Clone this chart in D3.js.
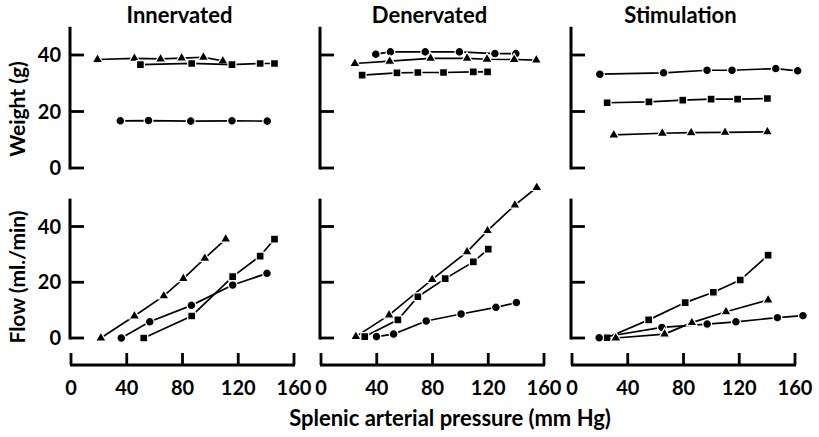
<!DOCTYPE html>
<html>
<head>
<meta charset="utf-8">
<script src="https://cdn.jsdelivr.net/npm/d3@7"></script>
<style>
  body { margin: 0; background: #fff; }
  svg text { font-family: Lato, "Open Sans", sans-serif; font-weight: bold; fill: #000; }
</style>
</head>
<body>
<div id="chart"></div>
<script>
// panel names and ticks
var panelNames = ["Innervated", "Denervated", "Stimulation"];
var xTicks = [0, 40, 80, 120, 160];
var yTicks = [0, 20, 40];

// Innervated - weight (g)
var innWtTriP = [19, 45.5, 64.3, 79.4, 95, 108.9], innWtTriV = [38.4, 38.8, 38.6, 38.9, 39.2, 37.9];
var innWtSqP = [49.8, 86.6, 115.5, 135.7, 146], innWtSqV = [36.6, 37, 36.6, 37, 37];
var innWtCirP = [35.4, 55.6, 85.9, 115.5, 140.8], innWtCirV = [16.7, 16.8, 16.6, 16.7, 16.6];
// Innervated - flow (ml./min)
var innFlTriP = [21.4, 45.5, 66.6, 80.6, 96, 111], innFlTriV = [0, 7.9, 15.1, 21.3, 28.6, 35.5];
var innFlCirP = [36.1, 56.5, 86.4, 116, 140.6], innFlCirV = [0, 5.8, 11.7, 19, 23.2];
var innFlSqP = [52.2, 86.6, 116, 135.7, 146], innFlSqV = [0, 7.9, 22, 29.4, 35.5];

// Denervated - weight
var denWtCirP = [39.3, 49.8, 74.8, 99.3, 124.8, 139.8], denWtCirV = [40.3, 41.1, 41.1, 41.1, 40.5, 40.5];
var denWtTriP = [24.3, 49.3, 78.6, 104.8, 119.1, 138.6, 154.5], denWtTriV = [37, 37.8, 38.8, 38.8, 38.5, 38.4, 38.2];
var denWtSqP = [29.5, 54.5, 69.5, 87.9, 109.3, 119.5], denWtSqV = [32.9, 33.7, 33.8, 33.8, 34, 34];
// Denervated - flow
var denFlTriP = [25, 48.8, 79.8, 104.8, 119.5, 139.1, 154.8], denFlTriV = [0.5, 8.2, 21, 30.9, 38.5, 47.7, 54];
var denFlSqP = [31.4, 55.2, 69.5, 89.1, 109.3, 120], denFlSqV = [0.5, 6.5, 14.8, 21.3, 27.3, 31.9];
var denFlCirP = [39.8, 52.1, 75.5, 100.5, 125.5, 140.2], denFlCirV = [0.5, 1.4, 6.1, 8.6, 11, 12.7];

// Stimulation - weight
var stiWtCirP = [20, 65.7, 96.9, 114.8, 146.2, 161.9], stiWtCirV = [33.2, 33.7, 34.6, 34.6, 35.2, 34.4];
var stiWtSqP = [25.2, 55.2, 79.5, 99.8, 118.8, 140.2], stiWtSqV = [23.1, 23.4, 24, 24.4, 24.4, 24.6];
var stiWtTriP = [30, 64.8, 85.5, 109.8, 140.2], stiWtTriV = [11.7, 12.3, 12.5, 12.6, 12.8];
// Stimulation - flow
var stiFlSqP = [25.2, 55, 81.2, 101.4, 120.7, 140.7], stiFlSqV = [0.1, 6.5, 12.7, 16.4, 20.8, 29.7];
var stiFlCirP = [19.5, 64.5, 97, 117.6, 147.4, 165.7], stiFlCirV = [0.1, 3.8, 5, 5.8, 7.3, 8];
var stiFlTriP = [31.4, 66.4, 86, 110.5, 140.7], stiFlTriV = [0, 1.4, 5.5, 9.4, 13.6];

var series = [
    {panel: 0, row: 0, shape: "tri", p: innWtTriP, v: innWtTriV},
    {panel: 0, row: 0, shape: "sq", p: innWtSqP, v: innWtSqV},
    {panel: 0, row: 0, shape: "cir", p: innWtCirP, v: innWtCirV},
    {panel: 0, row: 1, shape: "tri", p: innFlTriP, v: innFlTriV},
    {panel: 0, row: 1, shape: "cir", p: innFlCirP, v: innFlCirV},
    {panel: 0, row: 1, shape: "sq", p: innFlSqP, v: innFlSqV},
    {panel: 1, row: 0, shape: "cir", p: denWtCirP, v: denWtCirV},
    {panel: 1, row: 0, shape: "tri", p: denWtTriP, v: denWtTriV},
    {panel: 1, row: 0, shape: "sq", p: denWtSqP, v: denWtSqV},
    {panel: 1, row: 1, shape: "tri", p: denFlTriP, v: denFlTriV},
    {panel: 1, row: 1, shape: "sq", p: denFlSqP, v: denFlSqV},
    {panel: 1, row: 1, shape: "cir", p: denFlCirP, v: denFlCirV},
    {panel: 2, row: 0, shape: "cir", p: stiWtCirP, v: stiWtCirV},
    {panel: 2, row: 0, shape: "sq", p: stiWtSqP, v: stiWtSqV},
    {panel: 2, row: 0, shape: "tri", p: stiWtTriP, v: stiWtTriV},
    {panel: 2, row: 1, shape: "sq", p: stiFlSqP, v: stiFlSqV},
    {panel: 2, row: 1, shape: "cir", p: stiFlCirP, v: stiFlCirV},
    {panel: 2, row: 1, shape: "tri", p: stiFlTriP, v: stiFlTriV}
];

var width = 819, height = 437;
var svg = d3.select("#chart").append("svg")
    .attr("width", width)
    .attr("height", height);

var panelLeft = [71, 321, 572];
var panelW = 223;
var xAxisY = 365;

// row 0 = weight, row 1 = flow
var yScales = [
    d3.scaleLinear().domain([0, 40]).range([168, 55]),
    d3.scaleLinear().domain([0, 40]).range([338, 226.5])
];
var yTopVal = 50;

var shapes = {
    cir: d3.symbol().type(d3.symbolCircle).size(60),
    sq: d3.symbol().type(d3.symbolSquare).size(62),
    tri: d3.symbol().type(d3.symbolTriangle).size(48)
};

panelNames.forEach(function (name, i) {
    var x = d3.scaleLinear().domain([0, 160]).range([panelLeft[i], panelLeft[i] + panelW]);
    var g = svg.append("g");

    g.append("text")
        .attr("x", panelLeft[i] + panelW / 2 - 3)
        .attr("y", 23)
        .attr("text-anchor", "middle")
        .attr("font-size", 22)
        .text(name);

    // y axes (weight, flow)
    yScales.forEach(function (y) {
        g.append("line")
            .attr("x1", x(0) - 1).attr("x2", x(0) - 1)
            .attr("y1", y(yTopVal)).attr("y2", y(0) + 1.5)
            .attr("stroke", "#000").attr("stroke-width", 3);
        g.selectAll(null).data(yTicks).enter().append("line")
            .attr("x1", x(0) - 1).attr("x2", x(0) + 13)
            .attr("y1", function (d) { return y(d); })
            .attr("y2", function (d) { return y(d); })
            .attr("stroke", "#000").attr("stroke-width", 2.8);
        if (i == 0) {
            g.selectAll(null).data(yTicks).enter().append("text")
                .attr("x", x(0) - 10)
                .attr("y", function (d) { return y(d); })
                .attr("dy", "0.36em")
                .attr("text-anchor", "end")
                .attr("font-size", 20)
                .text(function (d) { return d; });
        }
    });

    // x axis
    g.append("line")
        .attr("x1", x(0) - 1).attr("x2", x(160) + 1)
        .attr("y1", xAxisY).attr("y2", xAxisY)
        .attr("stroke", "#000").attr("stroke-width", 3);
    g.selectAll(null).data(xTicks).enter().append("line")
        .attr("x1", function (d) { return x(d); })
        .attr("x2", function (d) { return x(d); })
        .attr("y1", xAxisY).attr("y2", xAxisY - 12)
        .attr("stroke", "#000").attr("stroke-width", 2.8);
    g.selectAll(null).data(xTicks).enter().append("text")
        .attr("x", function (d) { return x(d); })
        .attr("y", 395)
        .attr("text-anchor", "middle")
        .attr("font-size", 20)
        .text(function (d) { return d; });

    // data
    series.filter(function (s) { return s.panel == i; }).forEach(function (s) {
        var y = yScales[s.row];
        var pts = s.p.map(function (p, k) { return [x(p), y(s.v[k])]; });
        g.append("path")
            .attr("d", d3.line()(pts))
            .attr("fill", "none")
            .attr("stroke", "#000")
            .attr("stroke-width", 1.7);
        g.selectAll(null).data(pts).enter().append("path")
            .attr("d", shapes[s.shape])
            .attr("transform", function (d) { return "translate(" + d[0] + "," + d[1] + ")"; })
            .attr("fill", "#000")
            .attr("stroke", "#fff")
            .attr("stroke-width", 1.2);
    });
});

// axis titles
svg.append("text")
    .attr("transform", "translate(" + 25 + "," + 109 + ") rotate(-90)")
    .attr("text-anchor", "middle")
    .attr("font-size", 21)
    .text("Weight (g)");
svg.append("text")
    .attr("transform", "translate(" + 25 + "," + 277 + ") rotate(-90)")
    .attr("text-anchor", "middle")
    .attr("font-size", 21)
    .text("Flow (ml./min)");
svg.append("text")
    .attr("x", 450)
    .attr("y", 426)
    .attr("text-anchor", "middle")
    .attr("font-size", 22)
    .text("Splenic arterial pressure (mm Hg)");
</script>
</body>
</html>
